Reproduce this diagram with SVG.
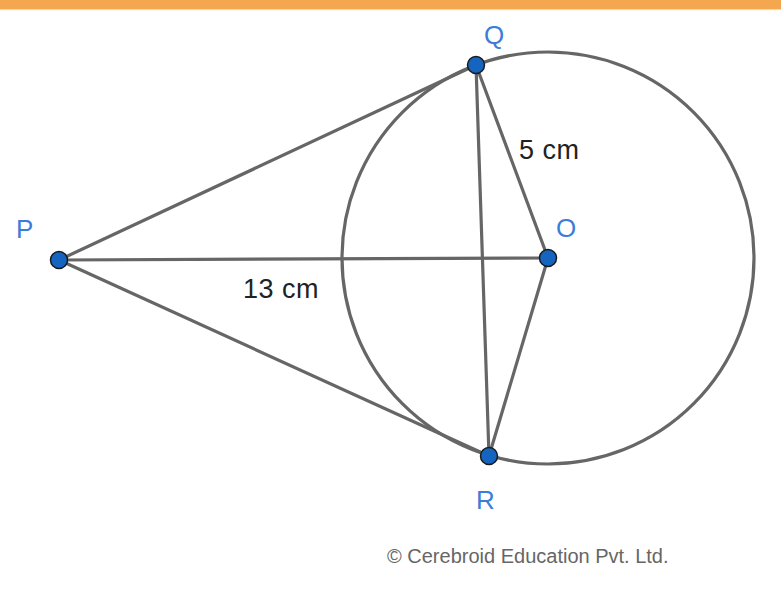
<svg xmlns="http://www.w3.org/2000/svg" width="781" height="589" viewBox="0 0 781 589">
<style>
.ln{stroke:#666;stroke-width:3.2;fill:none;stroke-linecap:round}
.pt{fill:#1565c0;stroke:#1a1a1a;stroke-width:1.5}
.lbl{font-family:"Liberation Sans",Arial,sans-serif;font-size:26px;fill:#3b7dd8}
.dim{font-family:"Liberation Sans",Arial,sans-serif;font-size:27px;fill:#222}
.cr{font-family:"Liberation Sans",Arial,sans-serif;font-size:20px;fill:#666}
</style>
<rect x="0" y="0" width="781" height="589" fill="#fff"/>
<rect x="0" y="0" width="781" height="9" fill="#f5a74f"/>
<rect x="0" y="9" width="781" height="1.2" fill="#fbd9a8"/>
<g id="connectors">
<circle class="ln" cx="548" cy="258" r="206"/>
<line class="ln" x1="59" y1="260" x2="476" y2="65"/>
<line class="ln" x1="59" y1="260" x2="489" y2="456"/>
<line class="ln" x1="59" y1="260" x2="548" y2="258"/>
<line class="ln" x1="476" y1="65" x2="548" y2="258"/>
<line class="ln" x1="489" y1="456" x2="548" y2="258"/>
<line class="ln" x1="476" y1="65" x2="489" y2="456"/>
</g>
<g id="P"><circle class="pt" cx="59" cy="260" r="8.5"/><text class="lbl" x="16" y="238">P</text></g>
<g id="Q"><circle class="pt" cx="476" cy="65" r="8.5"/><text class="lbl" x="484" y="44">Q</text></g>
<g id="O"><circle class="pt" cx="548" cy="258" r="8.5"/><text class="lbl" x="556" y="237">O</text></g>
<g id="R"><circle class="pt" cx="489" cy="456" r="8.5"/><text class="lbl" x="476" y="509">R</text></g>
<text class="dim" x="519" y="159" letter-spacing="0.5">5 cm</text>
<text class="dim" x="243" y="298" letter-spacing="0.5">13 cm</text>
<text class="cr" x="387" y="563">© Cerebroid Education Pvt. Ltd.</text>
</svg>
